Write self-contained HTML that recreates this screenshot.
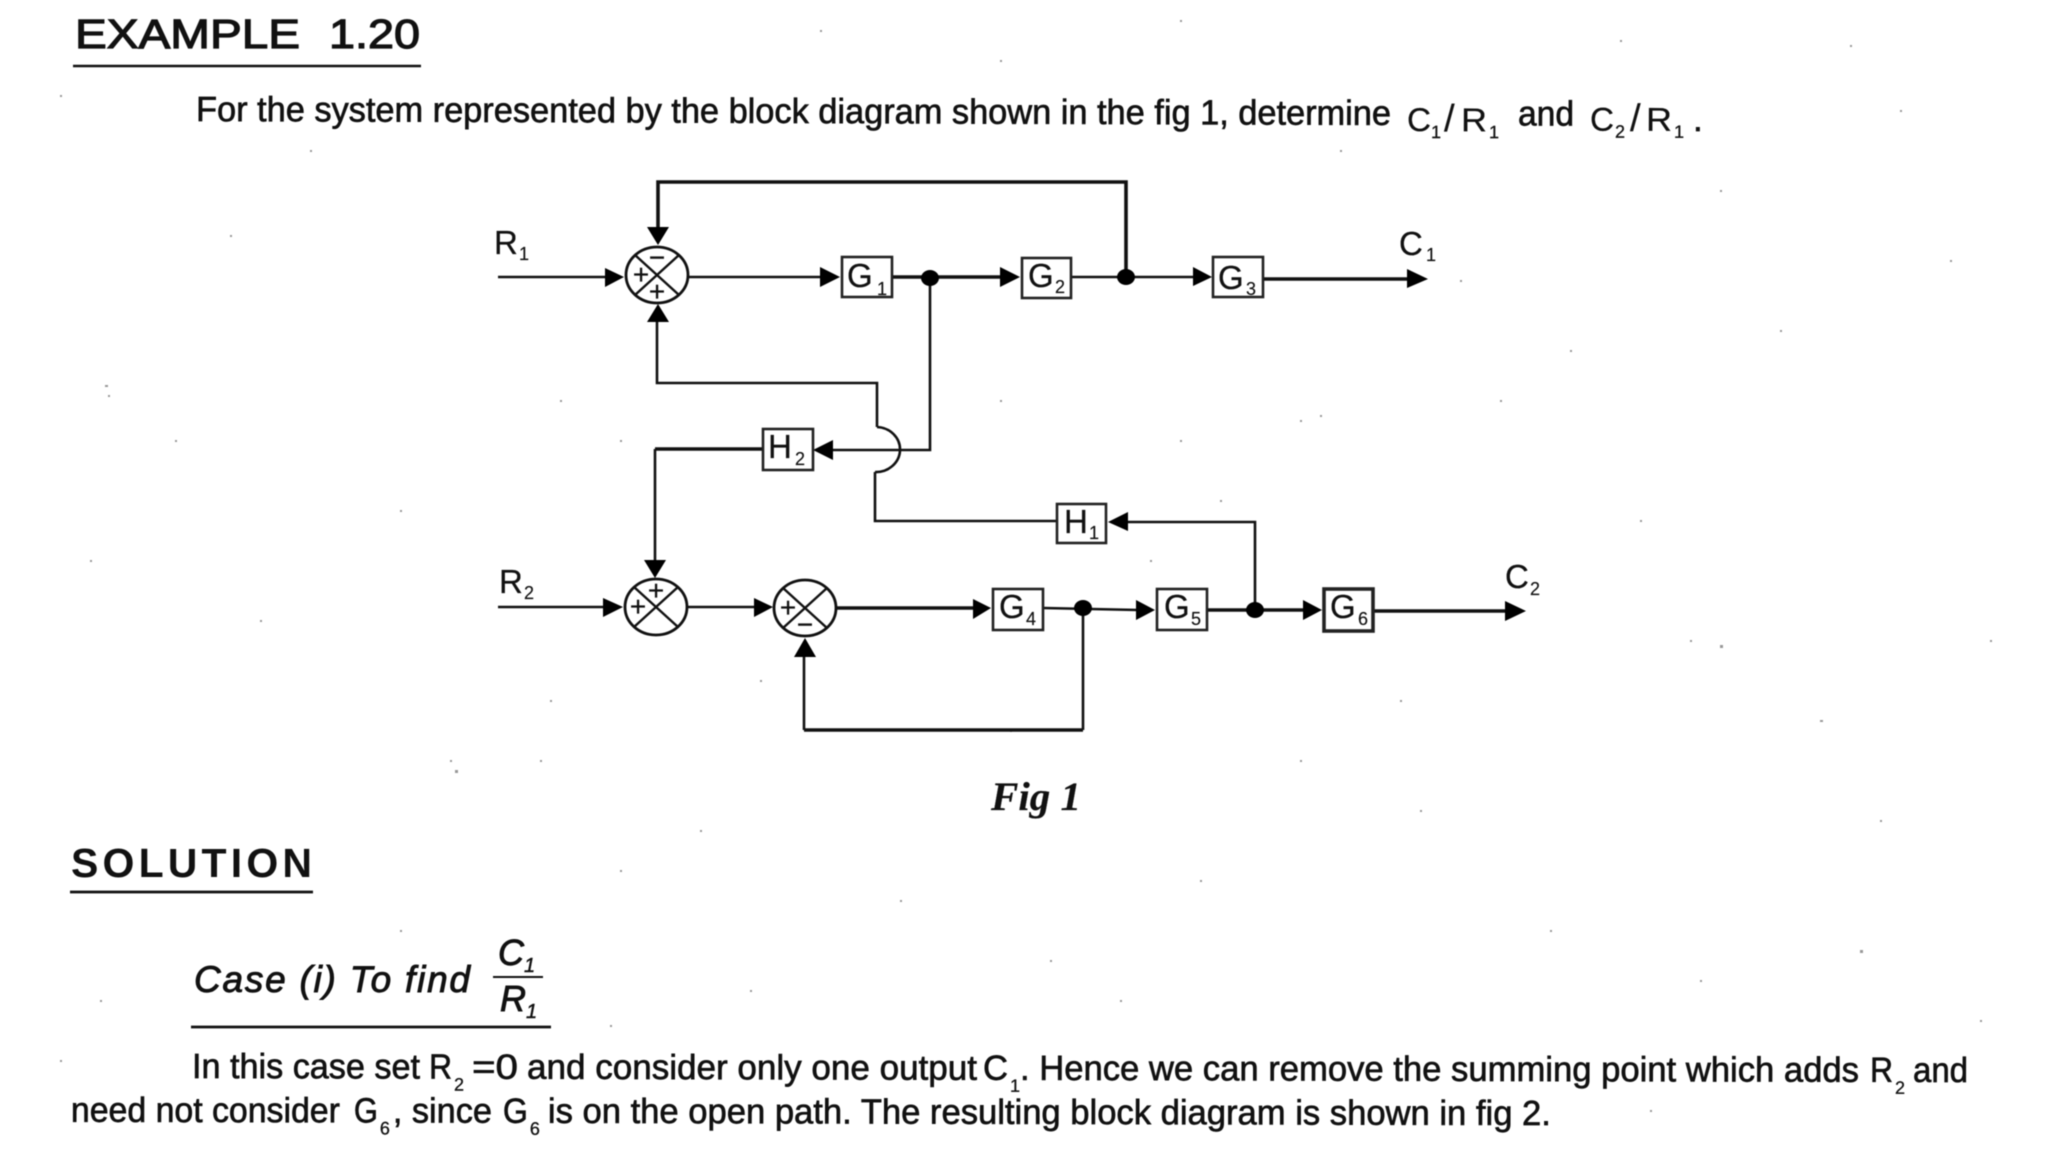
<!DOCTYPE html>
<html lang="en"><head><meta charset="utf-8"><title>Example 1.20</title>
<style>
html,body{margin:0;padding:0;background:#fff;width:2048px;height:1152px;overflow:hidden}
svg{display:block;filter:blur(.55px)}
text{font-family:"Liberation Sans",sans-serif;fill:#111;stroke:#111;stroke-width:.65}
.p{font-size:35px}
.s{font-size:18px;stroke-width:.3}
.l{font-size:33px;stroke-width:.25}
.ls{font-size:18px;stroke-width:.15}
.b{font-size:33px;stroke-width:.25}
.m{font-size:28px;text-anchor:middle;stroke-width:.3}
.i{font-style:italic}
.w{fill:none;stroke:#111;stroke-width:2.6}
.k{fill:none;stroke:#111;stroke-width:3.6}
.bx{fill:#fff;stroke:#222;stroke-width:2.6}
</style></head><body>
<svg width="2048" height="1152" viewBox="0 0 2048 1152" xmlns="http://www.w3.org/2000/svg">
<rect width="2048" height="1152" fill="#fff"/>
<path fill="#999" d="M60 95h2v2h-2zM105 385h3v2h-3zM108 395h2v2h-2zM230 235h2v2h-2zM310 150h2v2h-2zM175 440h2v2h-2zM90 560h2v2h-2zM260 620h2v2h-2zM400 510h2v2h-2zM455 770h3v3h-3zM540 760h2v2h-2zM620 870h2v2h-2zM700 830h2v2h-2zM760 680h2v2h-2zM1300 420h2v2h-2zM1460 280h2v2h-2zM1500 400h2v2h-2zM1570 350h2v2h-2zM1720 190h2v2h-2zM1780 330h2v2h-2zM1900 110h2v2h-2zM1950 260h2v2h-2zM1690 640h2v2h-2zM1640 520h2v2h-2zM1820 720h3v2h-3zM1880 820h2v2h-2zM1990 640h2v2h-2zM1720 645h3v3h-3zM1300 760h2v2h-2zM1420 810h2v2h-2zM1200 880h2v2h-2zM1050 960h2v2h-2zM900 900h2v2h-2zM750 990h2v2h-2zM1550 930h2v2h-2zM1700 980h2v2h-2zM1860 950h3v3h-3zM1980 1020h2v2h-2zM1650 1110h2v2h-2zM1400 700h2v2h-2zM1220 500h2v2h-2zM1340 150h2v2h-2zM1000 60h2v2h-2zM820 30h2v2h-2zM1180 20h2v2h-2zM1620 40h2v2h-2zM1850 45h2v2h-2zM400 930h2v2h-2zM610 1025h2v2h-2zM1120 1000h2v2h-2zM100 1000h2v2h-2zM60 1060h2v2h-2zM1010 730h2v2h-2zM560 400h2v2h-2zM620 440h2v2h-2zM1000 400h2v2h-2zM1180 440h2v2h-2zM1150 560h2v2h-2zM550 700h2v2h-2zM1320 415h2v2h-2zM450 760h2v2h-2z"/>

<!-- Heading -->
<text x="75" y="48" font-size="41" textLength="225" lengthAdjust="spacingAndGlyphs" style="stroke-width:1.2">EXAMPLE</text>
<text x="329" y="48" font-size="41" textLength="91" lengthAdjust="spacingAndGlyphs" style="stroke-width:1.2">1.20</text>
<line x1="73" y1="66" x2="421" y2="66" stroke="#111" stroke-width="2.6"/>

<g transform="rotate(.19 196 121)">
<text class="p" x="196" y="121" textLength="1195" lengthAdjust="spacingAndGlyphs">For the system represented by the block diagram shown in the fig 1, determine</text>
<text class="l" x="1407" y="127" textLength="24" lengthAdjust="spacingAndGlyphs">C</text>
<text class="s" x="1431" y="134">1</text>
<text x="1444" y="127" font-size="38" style="stroke-width:.2">/</text>
<text class="l" x="1461" y="127" textLength="26" lengthAdjust="spacingAndGlyphs">R</text>
<text class="s" x="1489" y="134">1</text>
<text class="p" x="1518" y="121" textLength="56" lengthAdjust="spacingAndGlyphs">and</text>
<text class="l" x="1590" y="126" textLength="24" lengthAdjust="spacingAndGlyphs">C</text>
<text class="s" x="1615" y="133">2</text>
<text x="1630" y="126" font-size="38" style="stroke-width:.2">/</text>
<text class="l" x="1646" y="126" textLength="26" lengthAdjust="spacingAndGlyphs">R</text>
<text class="s" x="1674" y="133">1</text>
<text class="p" x="1693" y="126">.</text>
</g>

<!-- Upper connectors -->
<polyline class="k" points="658,230 658,182 1126,182 1126,277"/>
<line class="w" x1="498" y1="277" x2="606" y2="277"/>
<line class="w" x1="689" y1="277" x2="822" y2="277"/>
<line class="k" x1="892" y1="277" x2="1002" y2="277"/>
<line class="w" x1="1071" y1="277" x2="1195" y2="277"/>
<line class="k" x1="1263" y1="279" x2="1410" y2="279"/>
<polyline class="w" points="930,278 930,450 832,450"/>
<polyline class="w" points="657,320 657,383 877,383 877,427"/>
<path class="w" d="M877 427A24 22.5 0 0 1 875 472"/>
<polyline class="w" points="875,472 875,521 1056,521"/>
<polyline class="w" points="1126,522 1255,522 1255,610"/>
<polyline class="k" points="762,449 655,449" />
<polyline class="w" points="655,449 655,562"/>

<!-- Lower connectors -->
<line class="w" x1="498" y1="607" x2="605" y2="607"/>
<line class="w" x1="688" y1="607" x2="756" y2="607"/>
<line class="k" x1="837" y1="608" x2="975" y2="608"/>
<line class="w" x1="1043" y1="608" x2="1138" y2="610"/>
<line class="k" x1="1207" y1="610" x2="1305" y2="610"/>
<line class="k" x1="1373" y1="611" x2="1508" y2="611"/>
<polyline class="w" points="1083,608 1083,730"/>
<polyline class="k" points="1083,730 804,730"/>
<polyline class="w" points="804,730 804,655"/>

<!-- Arrowheads -->
<g fill="#000">
<polygon points="605,268 624,277 605,287"/>
<polygon points="820,267 840,277 820,287"/>
<polygon points="1000,267 1020,277 1000,287"/>
<polygon points="1193,267 1212,277 1193,286"/>
<polygon points="1407,269 1428,279 1407,288"/>
<polygon points="647,227 669,227 658,245"/>
<polygon points="647,322 669,322 658,304"/>
<polygon points="833,440 833,460 813,450"/>
<polygon points="1128,512 1128,531 1108,522"/>
<polygon points="644,560 666,560 655,578"/>
<polygon points="603,598 623,607 603,617"/>
<polygon points="754,598 773,607 754,617"/>
<polygon points="973,599 991,608 973,619"/>
<polygon points="794,657 816,657 805,638"/>
<polygon points="1136,600 1155,610 1136,620"/>
<polygon points="1303,600 1322,610 1303,620"/>
<polygon points="1505,601 1526,611 1505,621"/>
<ellipse cx="930" cy="278" rx="9" ry="8"/>
<ellipse cx="1126" cy="277" rx="9" ry="8"/>
<ellipse cx="1083" cy="608" rx="9" ry="8"/>
<ellipse cx="1255" cy="610" rx="9" ry="8"/>
</g>

<!-- Summing points -->
<g fill="#fff" stroke="#111" stroke-width="2.8">
<ellipse cx="657" cy="275" rx="31" ry="28"/>
<ellipse cx="656" cy="607" rx="31" ry="28"/>
<ellipse cx="805" cy="608" rx="31" ry="28"/>
<path fill="none" stroke-width="2.4" d="M635 255L679 295M679 255L635 295M634 587L678 627M678 587L634 627M783 588L827 628M827 588L783 628"/>
</g>
<text class="m" x="641" y="284">+</text>
<text class="m" x="657" y="267">−</text>
<text class="m" x="657" y="301">+</text>
<text class="m" x="638" y="616">+</text>
<text class="m" x="656" y="600">+</text>
<text class="m" x="788" y="617">+</text>
<text class="m" x="805" y="634">−</text>

<!-- Boxes -->
<rect class="bx" x="842" y="257" width="50" height="40"/>
<rect class="bx" x="1022" y="258" width="49" height="40"/>
<rect class="bx" x="1213" y="257" width="50" height="40"/>
<rect class="bx" x="763" y="429" width="50" height="41"/>
<rect class="bx" x="1057" y="504" width="49" height="39"/>
<rect class="bx" x="993" y="589" width="50" height="41"/>
<rect class="bx" x="1157" y="589" width="50" height="41"/>
<rect class="bx" x="1324" y="589" width="49" height="42" style="stroke-width:3.6"/>

<text class="b" x="847" y="287">G</text><text class="ls" x="877" y="295">1</text>
<text class="b" x="1028" y="287">G</text><text class="ls" x="1055" y="293">2</text>
<text class="b" x="1218" y="289">G</text><text class="ls" x="1246" y="295">3</text>
<text class="b" x="768" y="458">H</text><text class="ls" x="795" y="465">2</text>
<text class="b" x="1064" y="533">H</text><text class="ls" x="1089" y="539">1</text>
<text class="b" x="999" y="618">G</text><text class="ls" x="1026" y="625">4</text>
<text class="b" x="1164" y="618">G</text><text class="ls" x="1191" y="625">5</text>
<text class="b" x="1330" y="618">G</text><text class="ls" x="1358" y="625">6</text>

<!-- Signal labels -->
<text class="l" x="494" y="254">R</text><text class="ls" x="519" y="260">1</text>
<text class="l" x="499" y="593">R</text><text class="ls" x="524" y="599">2</text>
<text class="l" x="1399" y="255">C</text><text class="ls" x="1426" y="261">1</text>
<text class="l" x="1505" y="588">C</text><text class="ls" x="1530" y="595">2</text>

<text x="991" y="810" font-size="40" textLength="90" lengthAdjust="spacingAndGlyphs" style="font-family:'Liberation Serif',serif;font-weight:bold;font-style:italic;stroke-width:.2">Fig 1</text>

<!-- Solution -->
<text x="71" y="877" font-size="41" font-weight="bold" textLength="241" lengthAdjust="spacing" style="stroke-width:0">SOLUTION</text>
<line x1="70" y1="892" x2="313" y2="892" stroke="#111" stroke-width="2.8"/>

<text class="i" x="194" y="992" font-size="37" textLength="276" lengthAdjust="spacing" style="stroke-width:.9">Case (i) To find</text>
<text class="i" x="498" y="965" font-size="36" style="stroke-width:.9">C</text><text class="i" x="524" y="972" font-size="20" style="stroke-width:.5">1</text>
<line x1="493" y1="977" x2="543" y2="977" stroke="#111" stroke-width="2"/>
<text class="i" x="500" y="1011" font-size="36" style="stroke-width:.9">R</text><text class="i" x="526" y="1018" font-size="20" style="stroke-width:.5">1</text>
<line x1="191" y1="1027" x2="551" y2="1027" stroke="#111" stroke-width="2.8"/>

<g transform="rotate(.13 192 1078)">
<text class="p" x="192" y="1078" textLength="228" lengthAdjust="spacingAndGlyphs">In this case set</text>
<text class="p" x="429" y="1078" textLength="23" lengthAdjust="spacingAndGlyphs">R</text>
<text class="s" x="454" y="1090">2</text>
<text class="p" x="472" y="1078" textLength="46" lengthAdjust="spacingAndGlyphs">=0</text>
<text class="p" x="527" y="1078" textLength="450" lengthAdjust="spacingAndGlyphs">and consider only one output</text>
<text class="p" x="983" y="1078" textLength="25" lengthAdjust="spacingAndGlyphs">C</text>
<text class="s" x="1010" y="1090">1</text>
<text class="p" x="1020" y="1078" textLength="839" lengthAdjust="spacingAndGlyphs">. Hence we can remove the summing point which adds</text>
<text class="p" x="1870" y="1078" textLength="23" lengthAdjust="spacingAndGlyphs">R</text>
<text class="s" x="1895" y="1090">2</text>
<text class="p" x="1913" y="1078" textLength="55" lengthAdjust="spacingAndGlyphs">and</text>

<text class="p" x="71" y="1122" textLength="269" lengthAdjust="spacingAndGlyphs">need not consider</text>
<text class="p" x="354" y="1122" textLength="24" lengthAdjust="spacingAndGlyphs">G</text>
<text class="s" x="380" y="1134">6</text>
<text class="p" x="393" y="1122" textLength="99" lengthAdjust="spacingAndGlyphs">, since</text>
<text class="p" x="503" y="1122" textLength="25" lengthAdjust="spacingAndGlyphs">G</text>
<text class="s" x="530" y="1134">6</text>
<text class="p" x="548" y="1122" textLength="1003" lengthAdjust="spacingAndGlyphs">is on the open path. The resulting block diagram is shown in fig 2.</text>
</g>
</svg>
</body></html>
